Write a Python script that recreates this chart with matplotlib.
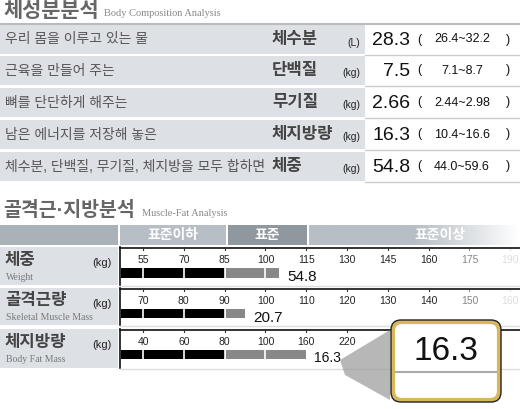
import numpy as np
import matplotlib
matplotlib.use('Agg')
import matplotlib.pyplot as plt
from matplotlib.patches import Rectangle, FancyBboxPatch, Polygon

plt.rcParams['font.family'] = ['Liberation Sans', 'Noto Sans CJK KR', 'DejaVu Sans']

### Data
comp_desc = ['우리 몸을 이루고 있는 물', '근육을 만들어 주는', '뼈를 단단하게 해주는',
             '남은 에너지를 저장해 놓은', '체수분, 단백질, 무기질, 체지방을 모두 합하면']
comp_name = ['체수분', '단백질', '무기질', '체지방량', '체중']
comp_unit = ['(L)', '(kg)', '(kg)', '(kg)', '(kg)']
comp_value = ['28.3', '7.5', '2.66', '16.3', '54.8']
comp_range = ['26.4~32.2', '7.1~8.7', '2.44~2.98', '10.4~16.6', '44.0~59.6']

mf_name = ['체중', '골격근량', '체지방량']
mf_eng = ['Weight', 'Skeletal Muscle Mass', 'Body Fat Mass']
mf_ticks = [[55, 70, 85, 100, 115, 130, 145, 160, 175, 190],
            [70, 80, 90, 100, 110, 120, 130, 140, 150, 160],
            [40, 60, 80, 100, 160, 220, 280, 340, 400, 460]]
mf_pct = [105, 95, 160]          # bar end, read on each row's scale
mf_black = [85, 90, 80]          # end of the black part
mf_value = ['54.8', '20.7', '16.3']

### Figure in pixel coordinates
fig = plt.figure(figsize=(5.2, 4.09), dpi=100)
ax = fig.add_axes([0, 0, 1, 1])
ax.set_xlim(0, 520)
ax.set_ylim(409, 0)
ax.axis('off')

grey = '#555555'
# section 1 title
ax.text(3, 11, '체성분분석', fontsize=15, fontweight='bold', color='#666666', va='center')
ax.text(104, 14, 'Body Composition Analysis', fontsize=7.5, family='Liberation Serif', color='#888888', va='center')
ax.plot([0, 520], [24, 24], color='#bbbbbb', lw=1.5)

row_top = [25, 56, 88, 120, 152]
row_h = 29
for i in range(5):
    y = row_top[i]
    ax.add_patch(Rectangle((0, y), 365, row_h, color='#dde1e6', lw=0))
    ax.plot([365, 520], [y + row_h + 0.5, y + row_h + 0.5], color='#cccccc', lw=1)
    yc = y + row_h / 2
    ax.text(5, yc, comp_desc[i], fontsize=10, color=grey, va='center')
    ax.text(272, yc, comp_name[i], fontsize=12, fontweight='bold', color='#444444', va='center')
    ax.text(360, yc + 3, comp_unit[i], fontsize=7.5, color='#222222', va='center', ha='right')
    ax.text(410, yc + 1, comp_value[i], fontsize=14, color='#111111', va='center', ha='right')
    ax.text(417, yc, '(', fontsize=9, color='#111111', va='center')
    ax.text(462, yc, comp_range[i], fontsize=9, color='#111111', va='center', ha='center')
    ax.text(506, yc, ')', fontsize=9, color='#111111', va='center')

# section 2 title
ax.text(3, 211, '골격근·지방분석', fontsize=14, fontweight='bold', color='#666666', va='center')
ax.text(142, 214, 'Muscle-Fat Analysis', fontsize=7.5, family='Liberation Serif', color='#888888', va='center')

# header band
ax.add_patch(Rectangle((0, 225), 118, 20, color='#a9b1b9', lw=0))
ax.add_patch(Rectangle((120, 225), 106, 20, color='#b7bec5', lw=0))
ax.add_patch(Rectangle((228, 225), 79, 20, color='#8f979f', lw=0))
grad = np.linspace(0, 1, 200).reshape(1, -1)
ax.imshow(grad, extent=(309, 520, 245, 225), cmap=matplotlib.colors.LinearSegmentedColormap.from_list(
    'h', ['#b7bec5', '#b7bec5', '#ffffff']), aspect='auto', zorder=1)
for x, s in [(173, '표준이하'), (267, '표준'), (440, '표준이상')]:
    ax.text(x, 235, s, fontsize=10, fontweight='bold', color='white', ha='center', va='center', zorder=2)

tick_x = 143 + 40.8 * np.arange(10)
mf_top = [247, 288, 329]
mf_h = [38, 37, 39]
for i in range(3):
    y = mf_top[i]
    h = mf_h[i]
    ax.add_patch(Rectangle((0, y), 118, h, color='#dde1e6', lw=0))
    ax.text(5, y + 13, mf_name[i], fontsize=12, fontweight='bold', color='#444444', va='center')
    ax.text(6, y + 30, mf_eng[i], fontsize=7, family='Liberation Serif', color='#777777', va='center')
    ax.text(112, y + 16, '(kg)', fontsize=8, color='#222222', va='center', ha='right')
    # frame
    ax.plot([120, 520], [y + 0.5, y + 0.5], color='#111111', lw=1.2)
    ax.plot([120, 120], [y, y + h], color='#111111', lw=1.2)
    for j, (tx, tv) in enumerate(zip(tick_x, mf_ticks[i])):
        if i == 2 and tx > 375:
            continue                 # hidden behind the callout
        a = 1.0 if j < 8 else (0.55 if j == 8 else 0.15)
        ax.plot([tx, tx], [y, y + 3], color='#333333', lw=0.8, alpha=a)
        ax.text(tx, y + 13, str(tv), fontsize=7.5, color='#222222', ha='center', va='center', alpha=a)
    # bar
    x_of = lambda v: np.interp(v, mf_ticks[i], tick_x)
    by = y + 21
    bh = 10 if i == 0 else 9
    xb = x_of(mf_black[i])
    xe = x_of(mf_pct[i])
    ax.add_patch(Rectangle((121, by), xb - 121, bh, color='#000000', lw=0))
    ax.add_patch(Rectangle((xb + 1.5, by), xe - xb - 1.5, bh, color='#888888', lw=0))
    for tx in tick_x:
        if tx < xe:
            ax.plot([tx, tx], [by, by + bh], color='white', lw=1.2)
    fs = 11 if i < 2 else 10
    ax.text(xe + 8, by + bh / 2 + 4, mf_value[i], fontsize=fs, color='#111111', va='center')
    ax.plot([120, 520], [y + h + 1, y + h + 1], color='#dddddd', lw=1)

# callout
ax.add_patch(Polygon([[340, 360], [390, 330], [390, 400], [345, 375]],
                     closed=True, color='#999999', alpha=0.7, lw=0, zorder=4))
ax.add_patch(FancyBboxPatch((393, 322), 106, 78, boxstyle='round,pad=0,rounding_size=9',
                            fc='white', ec='#d9b85c', lw=3, zorder=5))
ax.add_patch(FancyBboxPatch((391, 320), 110, 82, boxstyle='round,pad=0,rounding_size=10',
                            fc='none', ec='#222222', lw=1, zorder=5))
ax.text(446, 352, '16.3', fontsize=24, color='#111111', ha='center', va='center', zorder=6)
ax.plot([396, 496], [372, 372], color='#aaaaaa', lw=1.5, zorder=6)

fig.savefig('out.png', dpi=100)
